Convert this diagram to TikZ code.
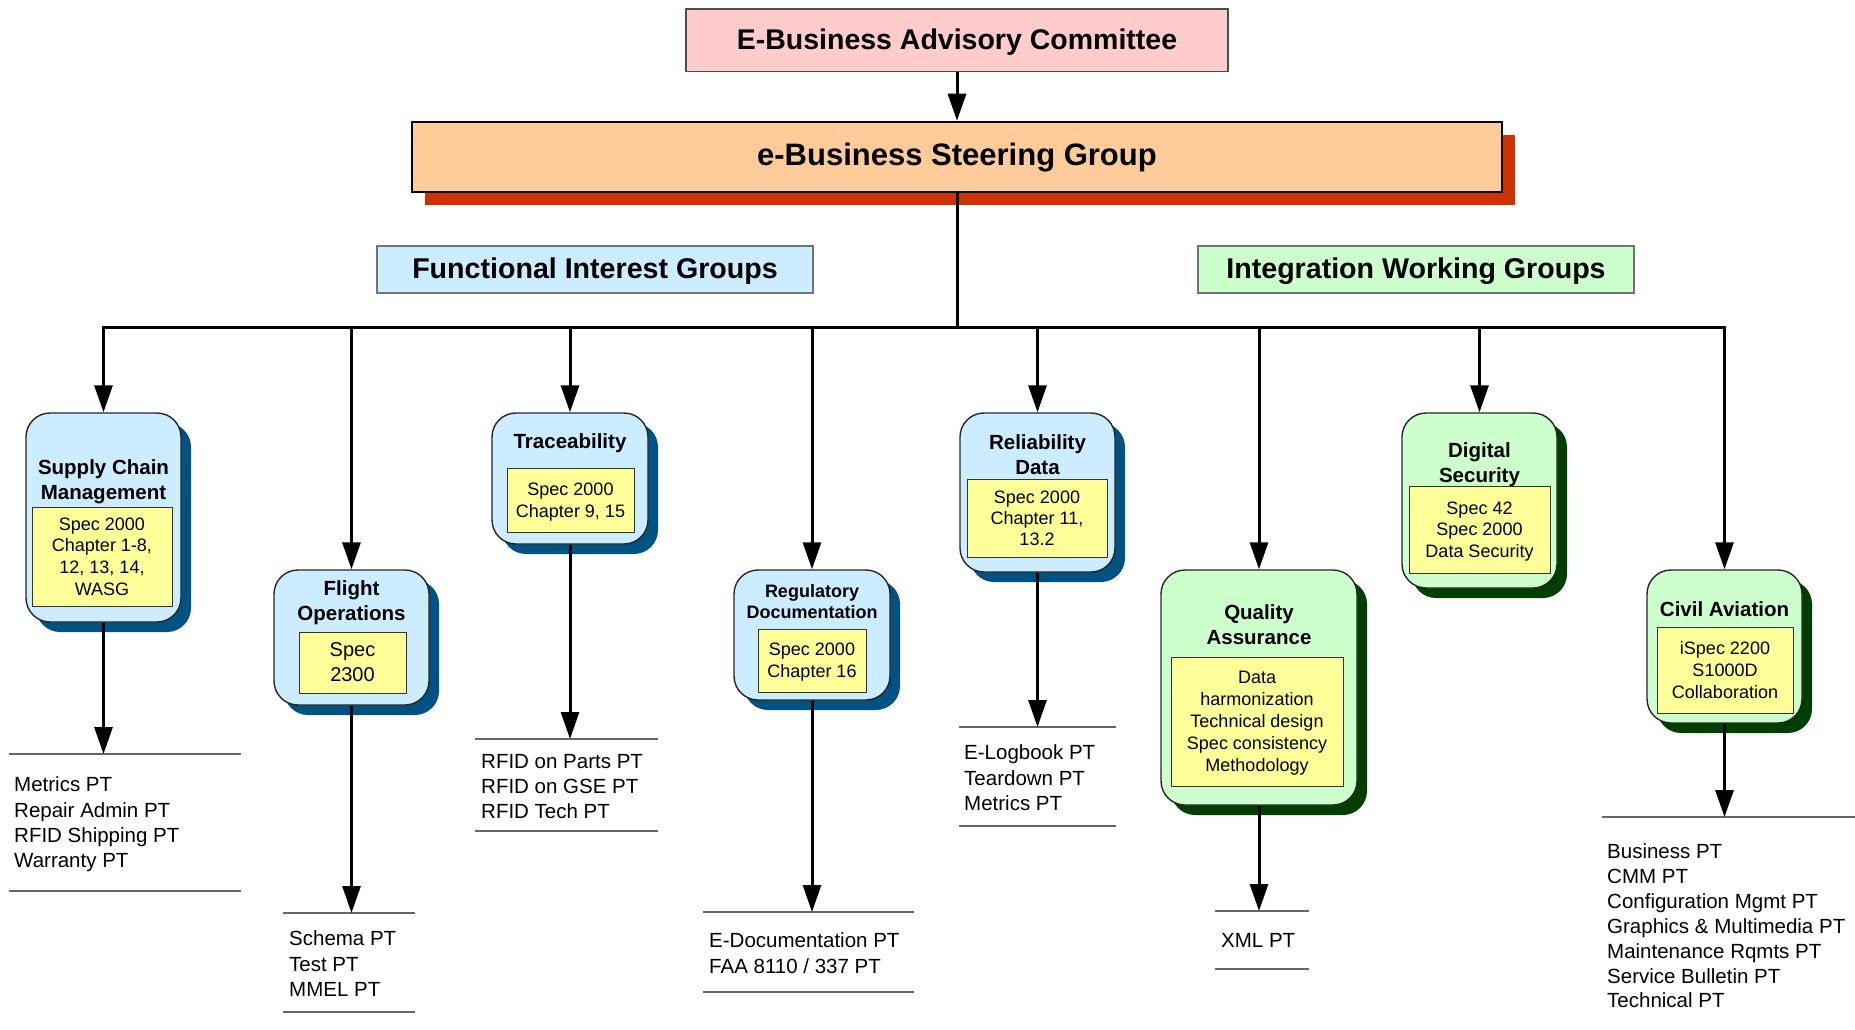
\documentclass[tikz,border=0pt]{standalone}
\usepackage{fontspec}
\setmainfont{Liberation Sans}
\usetikzlibrary{arrows.meta,shadows,calc}
\definecolor{advfill}{HTML}{FFCCCC}
\definecolor{steerfill}{HTML}{FFCC99}
\definecolor{steershadow}{HTML}{CC3300}
\definecolor{bfill}{HTML}{CCECFF}
\definecolor{bshadow}{HTML}{005282}
\definecolor{gfill}{HTML}{CCFFCC}
\definecolor{gshadow}{HTML}{003F00}
\definecolor{yfill}{HTML}{FFFF99}
\begin{document}
\begin{tikzpicture}[x=1pt,y=-1pt,
  grp/.style={draw=black!85, line width=1.4pt, rounded corners=24pt, inner sep=0pt},
  bluegrp/.style={grp, fill=bfill, general shadow={fill=bshadow, shadow xshift=10pt, shadow yshift=-10pt}},
  greengrp/.style={grp, fill=gfill, general shadow={fill=gshadow, shadow xshift=10pt, shadow yshift=-10pt}},
  title/.style={font=\fontsize{20.5}{25}\selectfont\bfseries, align=center, inner sep=0pt},
  ybox/.style={draw=black!80, line width=1pt, fill=yfill, inner sep=0pt, align=center, text depth=0pt, font=\fontsize{18}{21.7}\selectfont},
  conn/.style={line width=3pt},
  arr/.style={line width=3pt, line join=miter, -{Triangle[length=27pt,width=18pt]}},
  listline/.style={draw=black!60, line width=2pt},
  listframe/.style={inner sep=0pt, outer sep=0pt},
  listtext/.style={font=\fontsize{20.5}{25.2}\selectfont, align=left, inner sep=0pt, anchor=north west},
  heading/.style={inner sep=0pt, text depth=3pt, font=\bfseries}
]
\useasboundingbox (0,0) rectangle (1855,1030);

% top boxes
\node[heading, draw=black!70, line width=1.2pt, fill=advfill, minimum width=542pt, minimum height=62.7pt,
      font=\fontsize{28.5}{34}\selectfont\bfseries] (adv) at (957,40.3) {E-Business Advisory Committee};
\node[heading, text depth=4.5pt, draw=black, line width=2.5pt, fill=steerfill, minimum width=1090pt, minimum height=70pt,
      general shadow={fill=steershadow, shadow xshift=13pt, shadow yshift=-13pt},
      font=\fontsize{31}{37}\selectfont\bfseries] (steer) at (957,157) {e-Business Steering Group};
\node[heading, draw=black!55, line width=1.2pt, fill=bfill, minimum width=436pt, minimum height=47pt,
      font=\fontsize{28.6}{34}\selectfont\bfseries] (fig) at (595,269.5) {Functional Interest Groups};
\node[heading, draw=black!55, line width=1.2pt, fill=gfill, minimum width=436pt, minimum height=47pt,
      font=\fontsize{28.6}{34}\selectfont\bfseries] (iwg) at (1416,269.5) {Integration Working Groups};

% group boxes
\node[bluegrp, minimum width=155pt, minimum height=209pt] (scm) at (103.5,517.5) {};
\node[bluegrp, minimum width=155pt, minimum height=135pt] (flt) at (351.5,637.5) {};
\node[bluegrp, minimum width=156pt, minimum height=131pt] (trc) at (570,478.5) {};
\node[bluegrp, minimum width=156pt, minimum height=130pt] (reg) at (812,635) {};
\node[bluegrp, minimum width=155pt, minimum height=159pt] (rel) at (1037.5,492.5) {};
\node[greengrp, minimum width=196pt, minimum height=235pt] (qa) at (1259,687.5) {};
\node[greengrp, minimum width=155pt, minimum height=175pt] (dig) at (1479.5,500.5) {};
\node[greengrp, minimum width=155pt, minimum height=153pt] (civ) at (1724.5,646.5) {};

% titles
\node[title] (scmT) at (103.5,481.6) {Supply Chain\\Management};
\node[title] (fltT) at (351.5,602.4) {Flight\\Operations};
\node[title] (trcT) at (570,443.5) {Traceability};
\node[title, font=\fontsize{18}{21}\selectfont\bfseries] (regT) at (812,601.5) {Regulatory\\Documentation};
\node[title] (relT) at (1037.5,454.5) {Reliability\\Data};
\node[title] (qaT) at (1259,624.5) {Quality\\Assurance};
\node[title] (digT) at (1479.5,464.6) {Digital\\Security};
\node[title] (civT) at (1724.5,609) {Civil Aviation};

% yellow boxes
\node[ybox, minimum width=140pt, minimum height=99pt] (scmY) at (102,556.5) {Spec 2000\\Chapter 1-8,\\12, 13, 14,\\WASG};
\node[ybox, minimum width=107pt, minimum height=61pt, font=\fontsize{20}{25}\selectfont] (fltY) at (352.5,662.5) {Spec\\2300};
\node[ybox, minimum width=127pt, minimum height=64pt] (trcY) at (570.5,500) {Spec 2000\\Chapter 9, 15};
\node[ybox, minimum width=108pt, minimum height=63pt, font=\fontsize{18}{22}\selectfont] (regY) at (812,660.5) {Spec 2000\\Chapter 16};
\node[ybox, minimum width=140pt, minimum height=78pt, font=\fontsize{18}{21}\selectfont] (relY) at (1037,518) {Spec 2000\\Chapter 11,\\13.2};
\node[ybox, minimum width=172pt, minimum height=129pt, font=\fontsize{18}{22}\selectfont] (qaY) at (1257,721.5) {Data\\harmonization\\Technical design\\Spec consistency\\Methodology};
\node[ybox, minimum width=141pt, minimum height=87pt, font=\fontsize{18}{21.5}\selectfont] (digY) at (1479.5,529.5) {Spec 42\\Spec 2000\\Data Security};
\node[ybox, minimum width=136pt, minimum height=86pt] (civY) at (1725,670) {iSpec 2200\\S1000D\\Collaboration};

% list frames
\node[listframe, minimum width=232pt, minimum height=137pt] (l1) at (125,822.5) {};
\node[listframe, minimum width=132pt, minimum height=99pt] (l2) at (349,962.5) {};
\node[listframe, minimum width=183pt, minimum height=92pt] (l3) at (566.5,785) {};
\node[listframe, minimum width=211pt, minimum height=80pt] (l4) at (808.5,952) {};
\node[listframe, minimum width=157pt, minimum height=99pt] (l5) at (1037.5,776.5) {};
\node[listframe, minimum width=94pt, minimum height=58pt] (l6) at (1262,940) {};
\node[listframe, minimum width=253pt, minimum height=200pt] (l7) at (1728.5,917) {};

\foreach \l in {l1,l2,l3,l4,l5,l6}{
  \draw[listline] (\l.north west) -- (\l.north east);
  \draw[listline] (\l.south west) -- (\l.south east);
}
\draw[listline] (l7.north west) -- (l7.north east);

% list texts
\node[listtext] (l1t) at (14,776.8) {Metrics PT\\Repair Admin PT\\RFID Shipping PT\\Warranty PT};
\node[listtext] (l2t) at (289,930.8) {Schema PT\\Test PT\\MMEL PT};
\node[listtext] (l3t) at (481,753.8) {RFID on Parts PT\\RFID on GSE PT\\RFID Tech PT};
\node[listtext] (l4t) at (709,932.8) {E-Documentation PT\\FAA 8110 / 337 PT};
\node[listtext] (l5t) at (964,744.8) {E-Logbook PT\\Teardown PT\\Metrics PT};
\node[listtext] (l6t) at (1221,933.6) {XML PT};
\node[listtext, font=\fontsize{20.5}{24.95}\selectfont] (l7t) at (1607,843.2) {Business PT\\CMM PT\\Configuration Mgmt PT\\Graphics \& Multimedia PT\\Maintenance Rqmts PT\\Service Bulletin PT\\Technical PT};

% connectors
\coordinate (hub) at (957,327);
\draw[arr] (adv.south) -- (steer.north);
\draw[conn] (steer.south) -- (hub);
\draw[arr] (hub) -| (scm.north);
\draw[arr] (hub) -| (civ.north);
\foreach \b in {flt,trc,reg,rel,qa,dig}{
  \draw[arr] (\b.north |- hub) -- (\b.north);
}
\draw[arr] (scm.south) -- (scm.south |- l1.north);
\draw[arr] (flt.south) -- (flt.south |- l2.north);
\draw[arr] (trc.south) -- (trc.south |- l3.north);
\draw[arr] (reg.south) -- (reg.south |- l4.north);
\draw[arr] (rel.south) -- (rel.south |- l5.north);
\draw[arr] (qa.south) -- (qa.south |- l6.north);
\draw[arr] (civ.south) -- (civ.south |- l7.north);
\end{tikzpicture}
\end{document}
